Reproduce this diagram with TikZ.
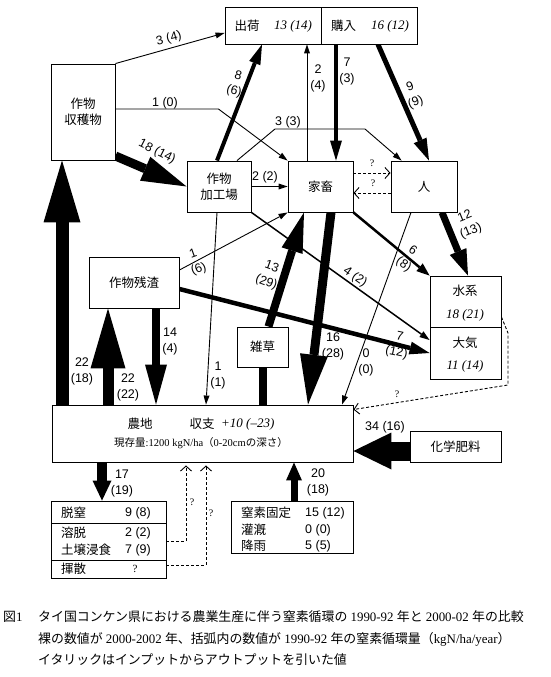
\documentclass[tikz,border=0pt]{standalone}
\usepackage{fontspec}
\setmainfont{Liberation Serif}
\newfontfamily\jpf{Noto Sans CJK JP}
\newfontfamily\arf{Liberation Sans}
\usetikzlibrary{arrows.meta,backgrounds}
\begin{document}
\begin{tikzpicture}[x=1pt,y=-1pt,
 bx/.style={draw,line width=0.9pt,fill=white,inner sep=0pt,align=center,font=\fontsize{12.5}{16}\jpf},
 jt/.style={inner sep=0pt,font=\fontsize{12.5}{16}\jpf},
 lab/.style={inner sep=0pt,align=center,font=\fontsize{12.5}{16}\arf},
 itv/.style={inner sep=0pt,font=\fontsize{13}{16}\selectfont\itshape},
 qm/.style={inner sep=0pt,font=\fontsize{10}{12}\selectfont},
 capt/.style={inner sep=0pt,anchor=west,font=\fontsize{12.9}{16}\selectfont},
 tarr/.style={line width=0.9pt,-{Triangle[length=9pt,width=6pt,line width=0pt]}},
 fat/.style n args={3}{line width=#1,-{Triangle[length=#2,width=#3,line width=0pt]}},
 dsh/.style={line width=0.9pt,dash pattern=on 3pt off 2pt,-{Straight Barb[length=5pt,width=11pt]}},
]
\useasboundingbox (0,0) rectangle (550,677);

% boxes
\node[bx,minimum width=96pt,minimum height=37pt] (shukka) at (273,25.5) {};
\node[bx,minimum width=96pt,minimum height=37pt] (kounyu) at (369,25.5) {};
\node[jt] (tshukka) at (247,26) {出荷};
\node[itv] (vshukka) at (293,26) {13 (14)};
\node[jt] (tkounyu) at (343.5,26) {購入};
\node[itv] (vkounyu) at (390,26) {16 (12)};

\node[bx,minimum width=64pt,minimum height=96pt] (shuk) at (83,112) {作物\\収穫物};
\node[bx,minimum width=64pt,minimum height=51pt] (kakou) at (219,186.5) {作物\\加工場};
\node[bx,minimum width=65pt,minimum height=51pt] (kachiku) at (320.5,186.5) {家畜};
\node[bx,minimum width=66pt,minimum height=51pt] (hito) at (424,186.5) {人};
\node[bx,minimum width=71pt,minimum height=51pt] (suikei) at (465.5,301.5) {};
\node[bx,minimum width=71pt,minimum height=52pt] (taiki) at (465.5,353) {};
\node[jt] (tsuikei) at (465,291) {水系};
\node[itv] (vsuikei) at (465,315) {18 (21)};
\node[jt] (ttaiki) at (465,343) {大気};
\node[itv] (vtaiki) at (465,366) {11 (14)};
\node[bx,minimum width=90pt,minimum height=51pt] (zansa) at (134,282.5) {作物残渣};
\node[bx,minimum width=51pt,minimum height=40pt] (zassou) at (262.5,347) {雑草};
\node[bx,minimum width=301pt,minimum height=57pt] (nouchi) at (202.5,433.5) {};
\node[jt] (tnouchi) at (140,424) {農地};
\node[jt] (tshushi) at (202,424) {収支};
\node[itv,anchor=west] (vshushi) at (221,424) {+10 (–23)};
\node[inner sep=0pt,font=\fontsize{10.5}{12}\selectfont] (tgenzon) at (201,443)
  {{\jpf 現存量}:1200 kgN/ha{\jpf （}0-20cm{\jpf の深さ）}};
\node[bx,minimum width=91pt,minimum height=31pt] (hiryou) at (455.5,446.5) {化学肥料};

\node[bx,minimum width=115pt,minimum height=22pt] (datsu) at (108.5,512) {};
\node[bx,minimum width=115pt,minimum height=37pt] (youdatsu) at (108.5,541.5) {};
\node[bx,minimum width=115pt,minimum height=18pt] (kisan) at (108.5,569) {};
\node[jt,anchor=west] (t1) at (61,513) {脱窒};
\node[lab] (v1) at (138,513) {9 (8)};
\node[jt,anchor=west] (t2) at (61,533) {溶脱};
\node[lab] (v2) at (138,533) {2 (2)};
\node[jt,anchor=west] (t3) at (61,550) {土壌浸食};
\node[lab] (v3) at (138,550) {7 (9)};
\node[jt,anchor=west] (t4) at (61,569) {揮散};
\node[qm,font=\fontsize{11}{12}\selectfont] (v4) at (135,569) {?};

\node[bx,minimum width=122pt,minimum height=52pt] (input) at (292,527) {};
\node[jt,anchor=west] (t5) at (241,513) {窒素固定};
\node[lab,anchor=west] (v5) at (305,513) {15 (12)};
\node[jt,anchor=west] (t6) at (241,530) {灌漑};
\node[lab,anchor=west] (v6) at (305,530) {0 (0)};
\node[jt,anchor=west] (t7) at (241,546) {降雨};
\node[lab,anchor=west] (v7) at (305,546) {5 (5)};

% labels
\node[lab,rotate=15] (l1) at (169,39) {3 (4)};
\node[lab] (l2) at (165,103) {1 (0)};
\node[lab,rotate=-27] (l3) at (157,152) {18 (14)};
\node[lab,rotate=-15] (l4) at (236,84) {8\\(6)};
\node[lab] (l5) at (318,78) {2\\(4)};
\node[lab] (l6) at (347,71.5) {7\\(3)};
\node[lab,rotate=20] (l7) at (413,95) {9\\(9)};
\node[lab] (l8) at (288,122) {3 (3)};
\node[lab] (l9) at (265,177) {2 (2)};
\node[qm] (q1) at (372,163) {?};
\node[qm] (q2) at (373,183) {?};
\node[lab,rotate=22] (l10) at (468,224) {12\\(13)};
\node[lab,rotate=-35] (l11) at (408,258) {6\\(8)};
\node[lab,rotate=-35] (l12) at (355,277) {4 (2)};
\node[lab,rotate=20] (l13) at (196,262) {1\\(6)};
\node[lab,rotate=-20] (l14) at (269,275) {13\\(29)};
\node[lab,rotate=-12] (l15) at (398,345) {7\\(12)};
\node[lab] (l16) at (333,346) {16\\(28)};
\node[lab] (l17) at (366,362) {0\\(0)};
\node[lab] (l18) at (218,375) {1\\(1)};
\node[lab] (l19) at (170,341) {14\\(4)};
\node[lab] (l20) at (82,371) {22\\(18)};
\node[lab] (l21) at (128,387) {22\\(22)};
\node[qm] (q3) at (397,394) {?};
\node[lab] (l22) at (385,427) {34 (16)};
\node[lab] (l23) at (122,483) {17\\(19)};
\node[lab] (l24) at (318,482) {20\\(18)};
\node[qm] (q4) at (192,502) {?};
\node[qm] (q5) at (211,513) {?};

% caption
\node[capt] (c0) at (3,617) {{\jpf 図}1};
\node[capt] (c1) at (38,617) {{\jpf タイ国コンケン県における農業生産に伴う窒素循環の} 1990-92 {\jpf 年と} 2000-02 {\jpf 年の比較}};
\node[capt] (c2) at (38,639) {{\jpf 裸の数値が} 2000-2002 {\jpf 年、括弧内の数値が} 1990-92 {\jpf 年の窒素循環量（}kgN/ha/year{\jpf ）}};
\node[capt] (c3) at (38,660) {{\jpf イタリックはインプットからアウトプットを引いた値}};

\begin{pgfonlayer}{background}
\fill[white] (0,0) rectangle (550,677);
% top
\draw[tarr] (shuk.north east) -- ([yshift=-7.5pt]shukka.west);
\draw[tarr] ([yshift=3pt]shuk.east) -- ++(103,0) -- (kachiku.north west);
\draw[fat={9pt}{45pt}{26pt}] ([yshift=-44pt]shuk.east) -- (kakou.west);
\draw[fat={4pt}{20pt}{12pt}] ([xshift=-2pt]kakou.north) -- ([xshift=-11pt]shukka.south);
\draw[tarr] ([xshift=-13.5pt]kachiku.north) -- ([xshift=34pt]shukka.south);
\draw[fat={4.5pt}{20pt}{12pt}] ([xshift=-33pt]kounyu.south) -- ([xshift=15.5pt]kachiku.north);
\draw[fat={5pt}{22pt}{14pt}] ([xshift=9pt]kounyu.south) -- ([xshift=5pt]hito.north);
\draw[tarr] ([xshift=18pt]kakou.north) -- (275,129) -- (365,129) -- ([xshift=11pt]hito.north west);
\draw[tarr] (kakou.east) -- (kachiku.west);
\draw[dsh] ([yshift=13.5pt]kachiku.east) -- ([yshift=13.5pt]hito.west);
\draw[dsh] ([yshift=-6.5pt]hito.west) -- ([yshift=-6.5pt]kachiku.east);
% middle
\draw[fat={7pt}{26pt}{18pt}] ([xshift=18pt]hito.south) -- ([xshift=2.5pt]suikei.north);
\draw[fat={2.5pt}{13pt}{10pt}] (kachiku.south east) -- (suikei.north west);
\draw[fat={1.5pt}{10pt}{7pt}] (kakou.south east) -- ([yshift=13pt]taiki.west);
\draw[tarr] ([yshift=12.5pt]zansa.east) -- (kachiku.south west);
\draw[fat={4.5pt}{20pt}{13pt}] ([yshift=-6.5pt]zansa.east) -- (taiki.west);
\draw[fat={9pt}{50pt}{28pt}] ([xshift=10.5pt]kachiku.south) -- ([xshift=105.5pt]nouchi.north);
\draw[fat={8pt}{40pt}{22pt}] ([xshift=6pt]zassou.north) -- ([xshift=-16.5pt]kachiku.south);
\draw[tarr] ([xshift=-13pt]hito.south) -- ([xshift=139.5pt]nouchi.north);
\draw[tarr] ([xshift=-2pt]kakou.south) -- ([xshift=3.5pt]nouchi.north);
\draw[fat={8pt}{40pt}{22pt}] ([xshift=22pt]zansa.south) -- ([xshift=-46.5pt]nouchi.north);
\draw[fat={11pt}{60pt}{35pt}] ([xshift=-94.5pt]nouchi.north) -- ([xshift=-26pt]zansa.south);
\draw[fat={13pt}{62pt}{37pt}] ([xshift=-140.5pt]nouchi.north) -- ([xshift=-21pt]shuk.south);
\draw[line width=8pt] (zassou.south) -- ([xshift=60pt]nouchi.north);
\draw[dsh] ([yshift=-15.5pt]suikei.east) -- (508,333) -- (508,385) -- ([yshift=-5pt]nouchi.north east);
% bottom
\draw[fat={19pt}{38pt}{37pt}] ([yshift=-4.5pt]hiryou.west) -- ([yshift=-17.5pt]nouchi.east);
\draw[fat={10pt}{20pt}{19pt}] ([xshift=-100.5pt]nouchi.south) -- ([xshift=-6.5pt]datsu.north);
\draw[fat={7pt}{18pt}{16pt}] ([xshift=2pt]input.north) -- ([xshift=91.5pt]nouchi.south);
\draw[dsh] (youdatsu.east) -| ([xshift=-16.5pt,yshift=-3pt]nouchi.south);
\draw[dsh] ([yshift=4pt]kisan.east) -| ([xshift=3.5pt,yshift=-3pt]nouchi.south);
\end{pgfonlayer}
\end{tikzpicture}
\end{document}
